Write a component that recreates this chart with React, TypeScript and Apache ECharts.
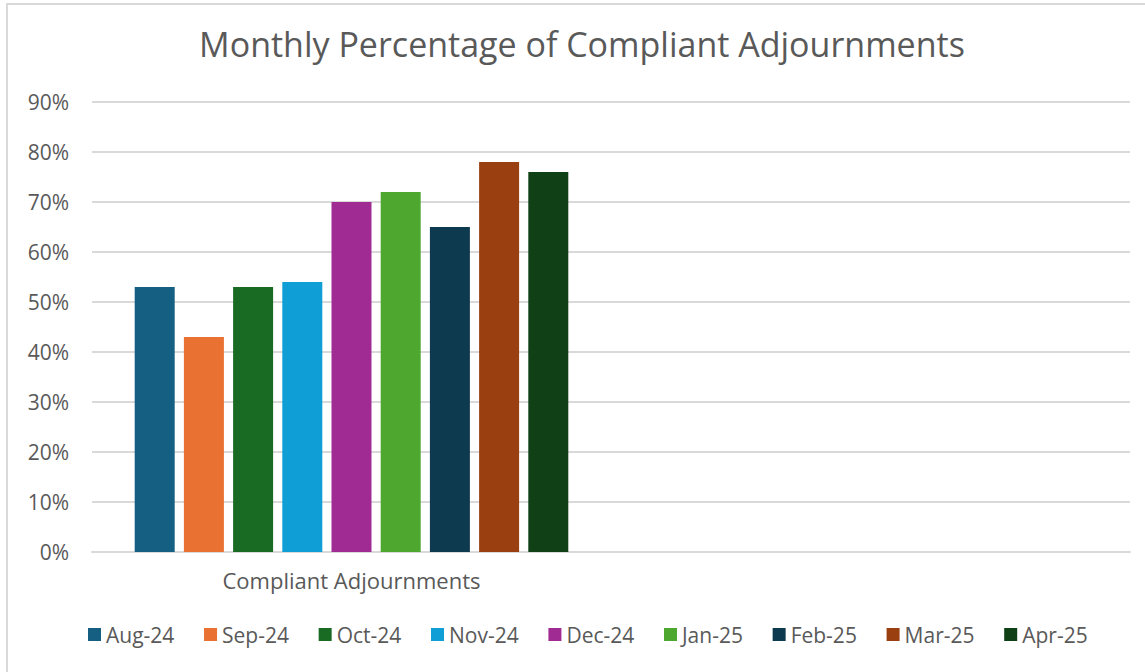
import React, { useEffect, useRef } from "react";
import * as echarts from "echarts";

const categories = ["Compliant Adjournments", ""];
const seriesNames = ["Aug-24", "Sep-24", "Oct-24", "Nov-24", "Dec-24", "Jan-25", "Feb-25", "Mar-25", "Apr-25"];
const seriesValues = [53, 43, 53, 54, 70, 72, 65, 78, 76];
const seriesColors = ["#156082", "#E97132", "#196B24", "#0F9ED5", "#A02B93", "#4EA72E", "#0D3A4E", "#993F10", "#0F4016"];
const yTicks = [0, 10, 20, 30, 40, 50, 60, 70, 80, 90];

const FONT = "'Open Sans', 'Noto Sans', sans-serif";
const TEXT = "#595959";

export default function App() {
  const ref = useRef<HTMLDivElement>(null);
  useEffect(() => {
    if (!ref.current) return;
    const chart = echarts.init(ref.current, undefined, { renderer: "svg" });
    chart.setOption({
      animation: false,
      backgroundColor: "#ffffff",
      textStyle: { fontFamily: FONT },
      title: {
        text: "Monthly Percentage of Compliant Adjournments",
        left: 582,
        textAlign: "center",
        top: 27,
        padding: 0,
        textStyle: { fontFamily: FONT, fontSize: 34, fontWeight: "normal", color: TEXT },
      },
      legend: {
        left: 88,
        top: 624,
        padding: 0,
        itemWidth: 13,
        itemHeight: 13,
        itemGap: 29.7,
        icon: "rect",
        textStyle: { fontFamily: FONT, fontSize: 21, color: TEXT },
        data: seriesNames,
      },
      graphic: [
        {
          type: "rect",
          shape: { x: 7, y: 4, width: 1160, height: 690 },
          style: { fill: "none", stroke: "#d9d9d9", lineWidth: 2 },
          silent: true,
        },
      ],
      grid: { left: 92, right: 15, top: 102, bottom: 120, containLabel: false },
      xAxis: {
        type: "category",
        data: categories,
        axisLine: { show: true, lineStyle: { color: "#d9d9d9", width: 2 } },
        axisTick: { show: false },
        axisLabel: { fontFamily: FONT, fontSize: 22, color: TEXT, margin: 17 },
      },
      yAxis: {
        type: "value",
        min: yTicks[0],
        max: yTicks[yTicks.length - 1],
        interval: 10,
        axisLine: { show: false },
        axisTick: { show: false },
        splitLine: { lineStyle: { color: "#d9d9d9", width: 2 } },
        axisLabel: { fontFamily: FONT, fontSize: 21, color: TEXT, margin: 23, formatter: "{value}%" },
      },
      series: seriesNames.map((name, i) => ({
        name,
        type: "bar",
        data: [seriesValues[i], null],
        barWidth: 40,
        barGap: "23%",
        itemStyle: { color: seriesColors[i] },
      })),
    });
    return () => chart.dispose();
  }, []);
  return (
    <div
      ref={ref}
      style={{ position: "absolute", left: 0, top: 0, width: 1145, height: 672 }}
    />
  );
}
